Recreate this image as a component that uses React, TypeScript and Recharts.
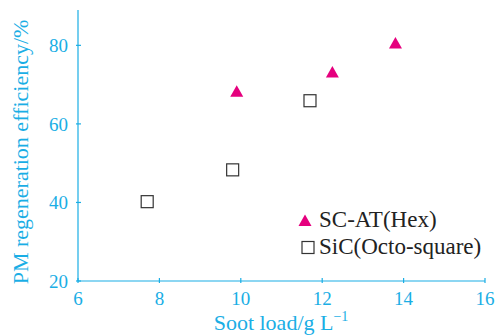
import { ScatterChart, Scatter, XAxis, YAxis } from "recharts";

const hexLoad = [9.9, 12.25, 13.8];
const hexEff = [68.2, 73.1, 80.5];
const octoLoad = [7.7, 9.8, 11.7];
const octoEff = [40.2, 48.3, 65.9];
const xTicks = [6, 8, 10, 12, 14, 16];
const yTicks = [20, 40, 60, 80];
const legendNames = ["SC-AT(Hex)", "SiC(Octo-square)"];

const hexData = hexLoad.map((x, i) => ({ x, y: hexEff[i] }));
const octoData = octoLoad.map((x, i) => ({ x, y: octoEff[i] }));

const AX = "#1aaee5";
const MAG = "#e5007e";
const FONT = "'Liberation Serif', 'DejaVu Serif', serif";

const Tri = (p: any) => (
  <polygon
    points={`${p.cx},${p.cy - 6.5} ${p.cx - 6.5},${p.cy + 5} ${p.cx + 6.5},${p.cy + 5}`}
    fill={MAG}
  />
);
const Sq = (p: any) => (
  <rect x={p.cx - 6} y={p.cy - 6} width={12} height={12} fill="#fff" stroke="#333" strokeWidth={1.2} />
);

const XTick = (p: any) => (
  <g>
    <line x1={p.x} x2={p.x} y1={p.y} y2={p.y - 5} stroke={AX} strokeWidth={1.2} />
    <text x={p.x} y={p.y + 22} textAnchor="middle" fill={AX} fontSize={19} fontFamily={FONT}>
      {p.payload.value}
    </text>
  </g>
);
const YTick = (p: any) => (
  <g>
    <line x1={p.x} x2={p.x + 5} y1={p.y} y2={p.y} stroke={AX} strokeWidth={1.2} />
    <text x={p.x - 8} y={p.y + 7} textAnchor="end" fill={AX} fontSize={19} fontFamily={FONT}>
      {p.payload.value}
    </text>
  </g>
);

export default function App() {
  return (
    <div style={{ position: "absolute", left: 0, top: 0, background: "#fff" }}>
      <ScatterChart width={501} height={336} margin={{ top: 10, right: 16, bottom: 0, left: 0 }}>
        <XAxis
          type="number"
          dataKey="x"
          domain={[6, 16]}
          ticks={xTicks}
          stroke={AX}
          strokeWidth={1.2}
          tickLine={false}
          tickSize={0}
          tick={<XTick />}
          height={55}
          allowDataOverflow
        />
        <YAxis
          type="number"
          dataKey="y"
          domain={[20, 89]}
          ticks={yTicks}
          stroke={AX}
          strokeWidth={1.2}
          tickLine={false}
          tickSize={0}
          tick={<YTick />}
          width={78}
          allowDataOverflow
        />
        <Scatter data={hexData} shape={<Tri />} isAnimationActive={false} />
        <Scatter data={octoData} shape={<Sq />} isAnimationActive={false} />
        <g fontFamily={FONT} fontSize={23} fill="#222">
          <polygon points="305,214.5 298.5,226 311.5,226" fill={MAG} />
          <text x={319} y={227}>{legendNames[0]}</text>
          <rect x={302} y={241.5} width={12} height={12} fill="#fff" stroke="#333" strokeWidth={1.2} />
          <text x={319} y={254}>{legendNames[1]}</text>
        </g>
        <text x={281} y={330} textAnchor="middle" fill={AX} fontSize={22} fontFamily={FONT}>
          Soot load/g L
          <tspan dy={-9} fontSize={14}>−1</tspan>
        </text>
        <text
          x={28}
          y={152}
          transform="rotate(-90 28 152)"
          textAnchor="middle"
          fill={AX}
          fontSize={22}
          fontFamily={FONT}
        >
          PM regeneration efficiency/%
        </text>
      </ScatterChart>
    </div>
  );
}
